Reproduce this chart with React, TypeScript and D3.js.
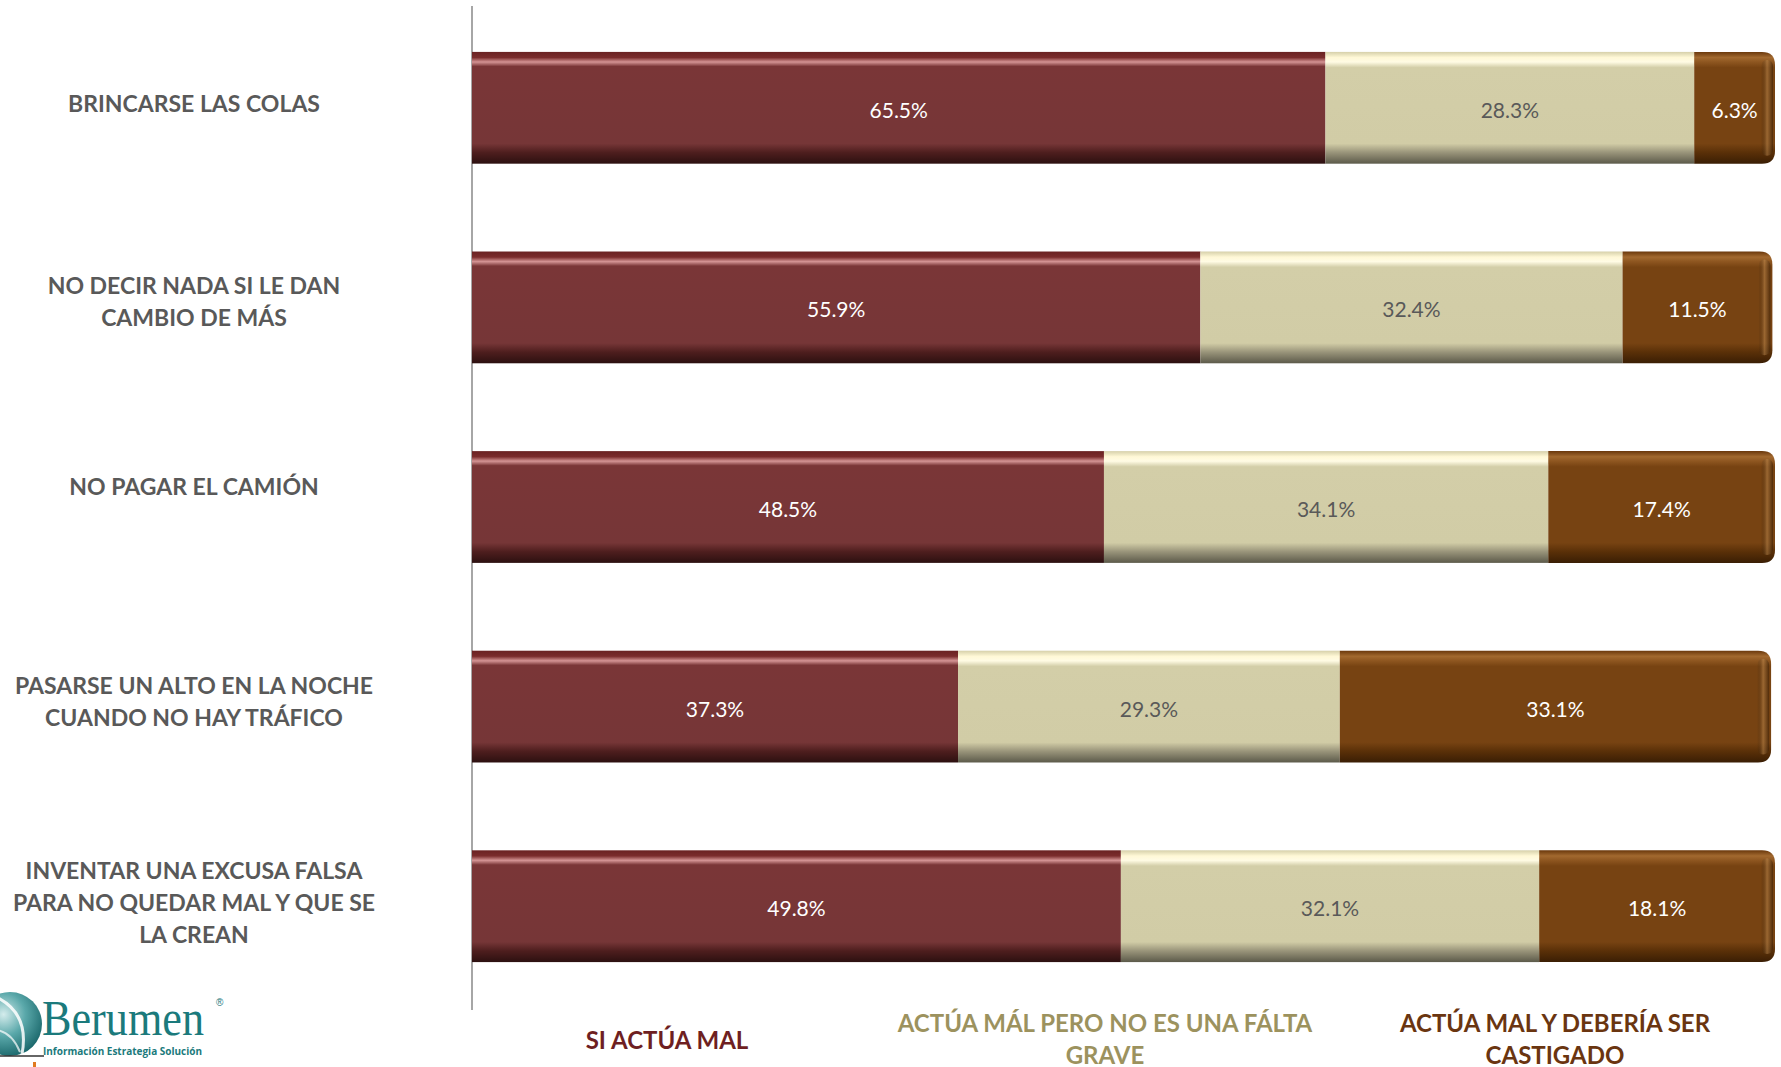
import React from "react";
import * as d3 from "d3";

const categories = [
  ["BRINCARSE LAS COLAS"],
  ["NO DECIR NADA SI LE DAN", "CAMBIO DE MÁS"],
  ["NO PAGAR EL CAMIÓN"],
  ["PASARSE UN ALTO EN LA NOCHE", "CUANDO NO HAY TRÁFICO"],
  ["INVENTAR UNA EXCUSA FALSA", "PARA NO QUEDAR MAL Y QUE SE", "LA CREAN"],
];
const siActuaMal = [65.5, 55.9, 48.5, 37.3, 49.8];
const noEsFaltaGrave = [28.3, 32.4, 34.1, 29.3, 32.1];
const deberiaSerCastigado = [6.3, 11.5, 17.4, 33.1, 18.1];
const seriesNames = [
  ["SI ACTÚA MAL"],
  ["ACTÚA MÁL PERO NO ES UNA FÁLTA", "GRAVE"],
  ["ACTÚA MAL Y DEBERÍA SER", "CASTIGADO"],
];

const W = 1781;
const H = 1067;

// vertical nudge of each category label relative to its bar centre (layout only)
const labelNudge = [-5, -6, -21, -6, -4];

const seriesStyle = [
  { id: "gRed", label: "#ffffff", legend: "#6e1f22",
    stops: [[0, "#6a2222"], [0.05, "#7a2c2c"], [0.09, "#d49494"], [0.13, "#7a3637"], [0.82, "#763637"], [0.9, "#4e1e1e"], [1, "#2c1010"]] },
  { id: "gBeige", label: "#595959", legend: "#9c925e",
    stops: [[0, "#d6d0aa"], [0.05, "#fff8d6"], [0.09, "#fffbe4"], [0.14, "#d3cea8"], [0.82, "#d1cca6"], [0.9, "#99947a"], [1, "#5c5a4a"]] },
  { id: "gBrown", label: "#ffffff", legend: "#6a3510",
    stops: [[0, "#6a380c"], [0.05, "#a2692f"], [0.09, "#8e5620"], [0.14, "#774312"], [0.82, "#774312"], [0.9, "#5a3008"], [1, "#3a1e04"]] },
];

export default function App() {
  const x = d3.scaleLinear().domain([0, 100]).range([472, 1775]);
  const y = d3
    .scaleBand<number>()
    .domain(d3.range(categories.length))
    .range([8, 1006])
    .paddingInner(0.44)
    .paddingOuter(0.22);
  const bw = y.bandwidth();

  const stack = categories.map((_, i) => {
    const vals = [siActuaMal[i], noEsFaltaGrave[i], deberiaSerCastigado[i]];
    let acc = 0;
    return vals.map((v) => {
      const s = acc;
      acc += v;
      return { s, e: acc, v };
    });
  });

  const legendX = [667, 1105, 1555];
  const r = 13;

  return (
    <svg width={W} height={H} style={{ position: "absolute", left: 0, top: 0, background: "#fff" }}>
      <defs>
        {seriesStyle.map((st) => (
          <linearGradient key={st.id} id={st.id} x1="0" y1="0" x2="0" y2="1">
            {st.stops.map(([o, c], k) => (
              <stop key={k} offset={o as number} stopColor={c as string} />
            ))}
          </linearGradient>
        ))}
        <linearGradient id="endShade" x1="0" y1="0" x2="1" y2="0">
          <stop offset="0" stopColor="#000" stopOpacity={0} />
          <stop offset="0.5" stopColor="#c89458" stopOpacity={0.45} />
          <stop offset="1" stopColor="#2a1400" stopOpacity={0.5} />
        </linearGradient>
        <radialGradient id="globe" cx="0.4" cy="0.35" r="0.75">
          <stop offset="0" stopColor="#d4ecec" />
          <stop offset="0.45" stopColor="#5aa8aa" />
          <stop offset="1" stopColor="#0d5a5e" />
        </radialGradient>
      </defs>

      {/* axis line */}
      <line x1={472} x2={472} y1={6} y2={1010} stroke="#a6a6a6" strokeWidth={2} />

      {/* bars */}
      {stack.map((segs, i) => {
        const y0 = y(i)!;
        return (
          <g key={i}>
            {segs.map((sg, j) => {
              const x0 = x(sg.s);
              const x1 = x(Math.min(sg.e, 100));
              const st = seriesStyle[j];
              if (j === segs.length - 1) {
                const p = `M${x0},${y0} H${x1 - r} Q${x1},${y0} ${x1},${y0 + r} V${y0 + bw - r} Q${x1},${y0 + bw} ${x1 - r},${y0 + bw} H${x0} Z`;
                return (
                  <g key={j}>
                    <path d={p} fill={`url(#${st.id})`} />
                    <rect x={x1 - 14} y={y0 + 8} width={12} height={bw - 16} fill="url(#endShade)" rx={6} />
                  </g>
                );
              }
              return <rect key={j} x={x0} y={y0} width={x1 - x0} height={bw} fill={`url(#${st.id})`} />;
            })}
            {segs.map((sg, j) => (
              <text
                key={"t" + j}
                x={(x(sg.s) + x(Math.min(sg.e, 100))) / 2}
                y={y0 + bw / 2 + 1.5}
                textAnchor="middle"
                dominantBaseline="central"
                fontFamily="Lato, 'Open Sans', sans-serif"
                fontSize={21}
                fill={seriesStyle[j].label}
              >
                {sg.v.toFixed(1)}%
              </text>
            ))}
          </g>
        );
      })}

      {/* category labels */}
      {categories.map((lines, i) => {
        const cy = y(i)! + bw / 2 + labelNudge[i];
        const lh = 32;
        const top = cy - ((lines.length - 1) * lh) / 2;
        return (
          <text
            key={i}
            textAnchor="middle"
            fontFamily="Lato, 'Open Sans', sans-serif"
            fontWeight="bold"
            fontSize={23}
            fill="#595959"
          >
            {lines.map((l, k) => (
              <tspan key={k} x={194} y={top + k * lh} dominantBaseline="central">
                {l}
              </tspan>
            ))}
          </text>
        );
      })}

      {/* legend */}
      {seriesNames.map((lines, j) => {
        const top = lines.length === 1 ? 1039 : 1022;
        return (
          <text
            key={j}
            textAnchor="middle"
            fontFamily="Lato, 'Open Sans', sans-serif"
            fontWeight="bold"
            fontSize={24}
            fill={seriesStyle[j].legend}
          >
            {lines.map((l, k) => (
              <tspan key={k} x={legendX[j]} y={top + k * 32} dominantBaseline="central">
                {l}
              </tspan>
            ))}
          </text>
        );
      })}

      {/* logo */}
      <g>
        <circle cx={10} cy={1024} r={32} fill="url(#globe)" />
        <path d="M-6,996 Q30,1012 22,1054" stroke="#ffffff" strokeWidth={3} fill="none" opacity={0.85} />
        <path d="M-10,1030 Q10,1028 20,1052" stroke="#ffffff" strokeWidth={2} fill="none" opacity={0.7} />
        <line x1={0} x2={44} y1={1056} y2={1056} stroke="#333" strokeWidth={1.5} />
        <text
          x={42}
          y={1035}
          fontFamily="'Liberation Serif', 'DejaVu Serif', serif"
          fontSize={50}
          fill="#1b7a7c"
          textLength={162}
          lengthAdjust="spacingAndGlyphs"
        >
          Berumen
        </text>
        <text x={216} y={1006} fontFamily="sans-serif" fontSize={10} fill="#1b7a7c">®</text>
        <text
          x={43}
          y={1055}
          fontFamily="'Open Sans', Lato, sans-serif"
          fontWeight="bold"
          fontSize={10}
          fill="#1b7a7c"
          textLength={159}
          lengthAdjust="spacingAndGlyphs"
        >
          Información Estrategia Solución
        </text>
        <rect x={33} y={1062} width={3} height={5} fill="#e07a20" />
      </g>
    </svg>
  );
}
